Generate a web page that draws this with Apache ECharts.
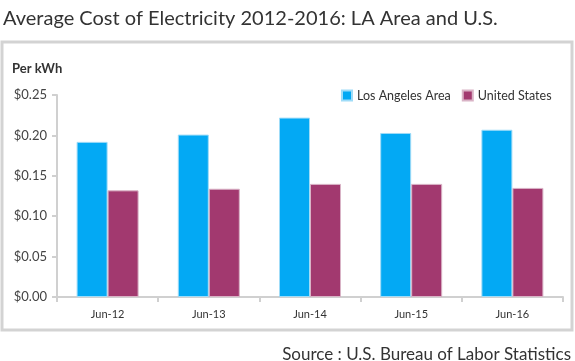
<!DOCTYPE html>
<html><head><meta charset="utf-8">
<script src="https://cdn.jsdelivr.net/npm/echarts@6/dist/echarts.min.js"></script>
<style>html,body{margin:0;padding:0;background:#fff}#c{width:575px;height:361px}</style>
</head><body><div id="c"></div>
<script>
const categories = ['Jun-12','Jun-13','Jun-14','Jun-15','Jun-16'];
const laArea = [0.192, 0.201, 0.222, 0.203, 0.207];
const unitedStates = [0.132, 0.134, 0.140, 0.140, 0.135];
const yTicks = [0, 0.05, 0.10, 0.15, 0.20, 0.25];

const chart = echarts.init(document.getElementById('c'));
const font = 'Lato, "Open Sans", sans-serif';
chart.setOption({
  animation: false,
  textStyle: { fontFamily: font },
  title: [
    { text: 'Average Cost of Electricity 2012-2016: LA Area and U.S.', left: 3, top: 9, padding: 0,
      textStyle: { fontFamily: font, fontSize: 20, fontWeight: 'normal', color: '#333' } },
    { text: 'Per kWh', left: 12, top: 62, padding: 0,
      textStyle: { fontFamily: font, fontSize: 13, fontWeight: 'bold', color: '#333' } },
    { text: 'Source : U.S. Bureau of Labor Statistics', right: 4, top: 346, padding: 0,
      textStyle: { fontFamily: font, fontSize: 17, fontWeight: 'normal', color: '#333' } }
  ],
  graphic: [{
    type: 'rect', shape: { x: 2, y: 42, width: 570, height: 288 },
    style: { fill: 'none', stroke: '#d3d3d3', lineWidth: 3 }, z: -1
  }],
  legend: {
    orient: 'horizontal', left: 341, top: 89, width: 230, padding: 0,
    itemWidth: 10, itemHeight: 10, itemGap: 11,
    icon: 'rect',
    textStyle: { fontFamily: font, fontSize: 12.5, color: '#333' },
    data: ['Los Angeles Area', 'United States']
  },
  grid: { left: 57, right: 12, top: 95, bottom: 64, containLabel: false },
  xAxis: {
    type: 'category', data: categories,
    axisLine: { lineStyle: { color: '#d0d0d0', width: 2 } },
    axisTick: { show: true, length: 5, lineStyle: { color: '#d0d0d0', width: 2 } },
    axisLabel: { fontFamily: font, fontSize: 11, color: '#333', margin: 12 }
  },
  yAxis: {
    type: 'value', min: 0, max: 0.25, interval: 0.05,
    splitLine: { show: false },
    axisLine: { show: true, lineStyle: { color: '#d0d0d0', width: 2 } },
    axisTick: { show: true, length: 5, lineStyle: { color: '#d0d0d0', width: 2 } },
    axisLabel: { fontFamily: font, fontSize: 13, color: '#444', margin: 10,
      formatter: v => '$' + v.toFixed(2) }
  },
  series: [
    { name: 'Los Angeles Area', type: 'bar', data: laArea, barWidth: 31, barGap: '0%',
      itemStyle: { color: '#03a9f4', borderColor: '#9fdcf8', borderWidth: 1 } },
    { name: 'United States', type: 'bar', data: unitedStates, barWidth: 31, barGap: '0%',
      itemStyle: { color: '#a2396f', borderColor: '#d9b3c6', borderWidth: 1 } }
  ]
});
</script></body></html>
